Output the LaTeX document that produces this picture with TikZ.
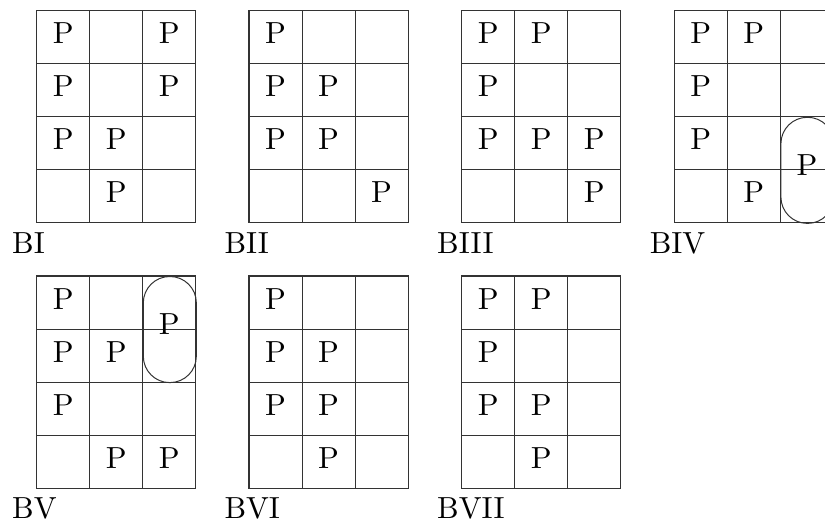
\documentclass[tikz,border=0pt]{standalone}
\usepackage{fontspec}
\newcommand\bigtxt[1]{\scalebox{3.05}{#1}}
\tikzset{
  gridline/.style={line width=1.1pt, draw=black!80, line cap=rect},
  ptext/.style={font=\fontsize{10}{12}\selectfont, inner sep=0pt, anchor=base},
  lbl/.style={font=\fontsize{10}{12}\selectfont, inner sep=0pt, anchor=base west},
  stadium/.style={draw=black!80, line width=1pt, rounded corners=26.4pt, inner sep=0pt,
    minimum width=53.05pt, minimum height=106.1pt, anchor=north west},
}
\newcommand\bgrid[5]{%
  \begin{scope}[shift={(#1,#2)}]
    \foreach \i in {1,2} \draw[gridline] (\i*53.05,0) -- (\i*53.05,212.2);
    \foreach \j in {1,2,3} \draw[gridline] (0,\j*53.05) -- (159.15,\j*53.05);
    \draw[gridline] (0,0) rectangle (159.15,212.2);
    \foreach \c/\r in {#5}
      \node[ptext] (#3-\c-\r) at ({(\c-0.5)*53.05},{(\r-1)*53.05+33}) {\bigtxt{P}};
    \node[lbl] (#3-label) at (-24.7,242.8) {\bigtxt{#4}};
  \end{scope}}
\begin{document}
\begin{tikzpicture}[x=1pt,y=-1pt]
\useasboundingbox (0,0) rectangle (825,524);
\clip (0,0) rectangle (825,524);
\bgrid{36.7}{10.7}{bi}{BI}{1/1,3/1,1/2,3/2,1/3,2/3,2/4}
\bgrid{249.0}{10.7}{bii}{BII}{1/1,1/2,2/2,1/3,2/3,3/4}
\bgrid{461.7}{10.7}{biii}{BIII}{1/1,2/1,1/2,1/3,2/3,3/3,3/4}
\bgrid{674.3}{10.7}{biv}{BIV}{1/1,2/1,1/2,1/3,2/4}
\bgrid{36.7}{276}{bv}{BV}{1/1,1/2,2/2,1/3,2/4,3/4}
\bgrid{249.0}{276}{bvi}{BVI}{1/1,1/2,2/2,1/3,2/3,2/4}
\bgrid{461.7}{276}{bvii}{BVII}{1/1,2/1,1/2,1/3,2/3,2/4}
% stadium in BIV (column 3, rows 3-4)
\node[stadium] (biv-s) at (780.4,116.8) {};
\node[ptext] (biv-sp) at (806.9,175.3) {\bigtxt{P}};
% stadium in BV (column 3, rows 1-2)
\node[stadium] (bv-s) at (142.8,276) {};
\node[ptext] (bv-sp) at (169.3,334.6) {\bigtxt{P}};
\end{tikzpicture}
\end{document}
